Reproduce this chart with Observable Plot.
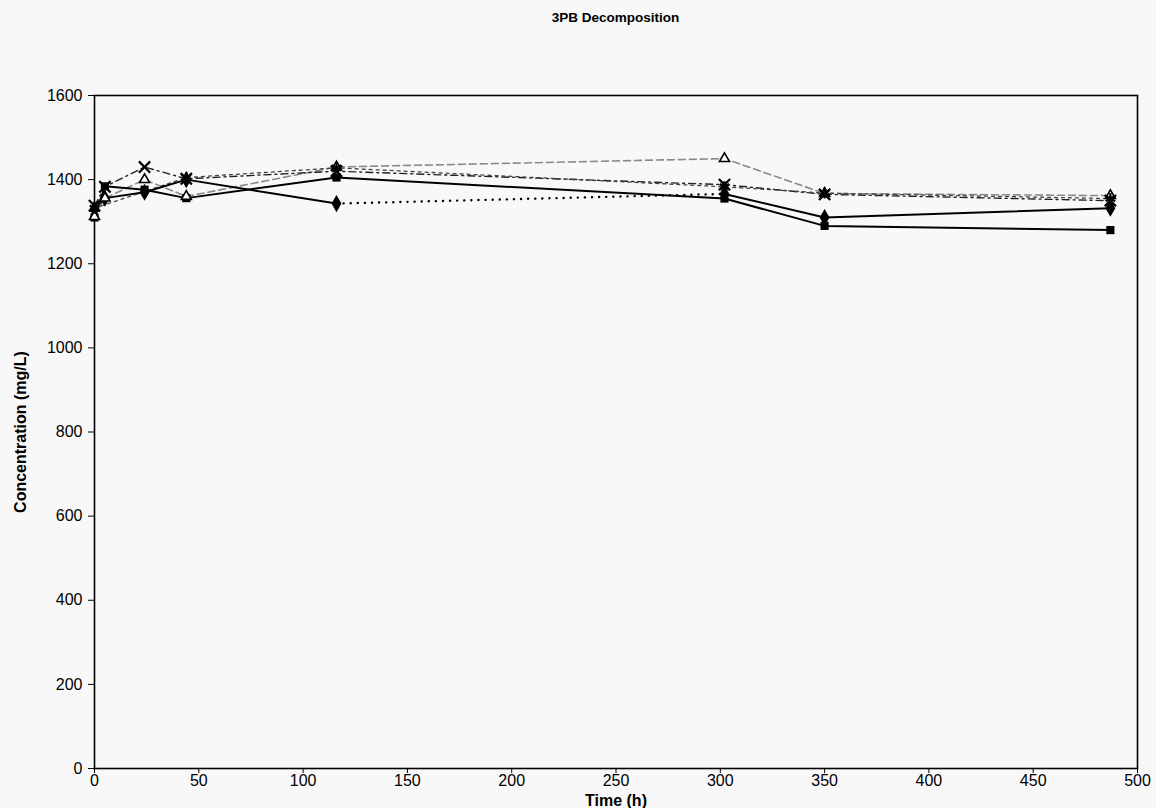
<!DOCTYPE html>
<html>
<head>
<meta charset="utf-8">
<script src="https://cdn.jsdelivr.net/npm/d3@7"></script>
<script src="https://cdn.jsdelivr.net/npm/@observablehq/plot@0.6"></script>
<style>
  html, body { margin: 0; padding: 0; background: #f8f8f8; }
  body { width: 1156px; height: 808px; overflow: hidden; font-family: "Liberation Sans", Arial, sans-serif; }
  #title { margin-left: 94px; width: 1043px; height: 40px; box-sizing: border-box; padding-top: 10px;
           text-align: center; font-weight: bold; font-size: 13.5px; color: #000; }
  g[aria-label="x-axis label"] text, g[aria-label="y-axis label"] text { font-weight: bold; }
</style>
</head>
<body>
<div id="title">3PB Decomposition</div>
<div id="chart"></div>
<script>
// Data
const times    = [0, 5, 24, 44, 116, 302, 350, 487];
const diamond  = [1330, 1356, 1370, 1400, 1343, 1366, 1310, 1332];
const square   = [1310, 1384, 1376, 1356, 1405, 1355, 1290, 1280];
const triangle = [1312, 1356, 1400, 1360, 1430, 1450, 1367, 1362];
const cross    = [1338, 1383, 1430, 1402, 1420, 1388, 1365, 1350];
const star     = [1332, null, null, 1405, 1428, 1383, 1368, 1355];
const xTicks = [0, 50, 100, 150, 200, 250, 300, 350, 400, 450, 500];
const yTicks = [0, 200, 400, 600, 800, 1000, 1200, 1400, 1600];

const rows = (vals) => times.map((t, i) => ({t, v: vals[i], i})).filter(d => d.v != null);
const dRows = rows(diamond);
const dSolidA = dRows.filter(d => d.t <= 116);
const dDotted = dRows.filter(d => d.t >= 116 && d.t <= 302);
const dSolidB = dRows.filter(d => d.t >= 302);

const chart = Plot.plot({
  width: 1156,
  height: 768,
  marginLeft: 94,
  marginRight: 19,
  marginTop: 55,
  marginBottom: 40,
  style: { background: "transparent", fontFamily: "'Liberation Sans', Arial, sans-serif", fontSize: "16px", color: "#000" },
  x: { domain: [0, 500] },
  y: { domain: [0, 1600] },
  marks: [
    Plot.axisX({ ticks: xTicks, tickSize: 5, tickPadding: 1, tickFormat: d => String(d),
                 label: "Time (h)", labelAnchor: "center", labelArrow: "none", labelOffset: 37 }),
    Plot.axisY({ ticks: yTicks, tickSize: 6, tickPadding: 6, tickFormat: d => String(d),
                 label: "Concentration (mg/L)", labelAnchor: "center", labelArrow: "none", labelOffset: 80 }),
    Plot.frame({ stroke: "#000", strokeWidth: 1.6 }),
    // triangle series: gray dashed
    Plot.line(rows(triangle), { x: "t", y: "v", stroke: "#8a8a8a", strokeWidth: 1.6, strokeDasharray: "7,4" }),
    // cross series: dash-dot
    Plot.line(rows(cross), { x: "t", y: "v", stroke: "#222", strokeWidth: 1.4, strokeDasharray: "7,4,2,4" }),
    // star series: short dashes
    Plot.line(rows(star), { x: "t", y: "v", stroke: "#444", strokeWidth: 1.3, strokeDasharray: "3,4" }),
    // square series: solid
    Plot.line(rows(square), { x: "t", y: "v", stroke: "#000", strokeWidth: 2 }),
    // diamond series: solid with a dotted stretch
    Plot.line(dSolidA, { x: "t", y: "v", stroke: "#000", strokeWidth: 2 }),
    Plot.line(dDotted, { x: "t", y: "v", stroke: "#000", strokeWidth: 2.4, strokeDasharray: "0.1,7", strokeLinecap: "round" }),
    Plot.line(dSolidB, { x: "t", y: "v", stroke: "#000", strokeWidth: 2 }),
    // markers
    Plot.dot(rows(square), { x: "t", y: "v", symbol: "square", r: 4.6, fill: "#000" }),
    Plot.dot(rows(diamond), { x: "t", y: "v", symbol: "diamond", r: 5.2, fill: "#000" }),
    Plot.dot(rows(triangle), { x: "t", y: "v", symbol: "triangle2", r: 4.8, stroke: "#000", fill: "#fff", strokeWidth: 1.6 }),
    Plot.dot(rows(cross), { x: "t", y: "v", symbol: "times", r: 5.2, stroke: "#000", strokeWidth: 2.2 }),
    Plot.dot(rows(star), { x: "t", y: "v", symbol: "asterisk", r: 5.2, stroke: "#000", strokeWidth: 2.2 })
  ]
});
document.getElementById("chart").appendChild(chart);
</script>
</body>
</html>
